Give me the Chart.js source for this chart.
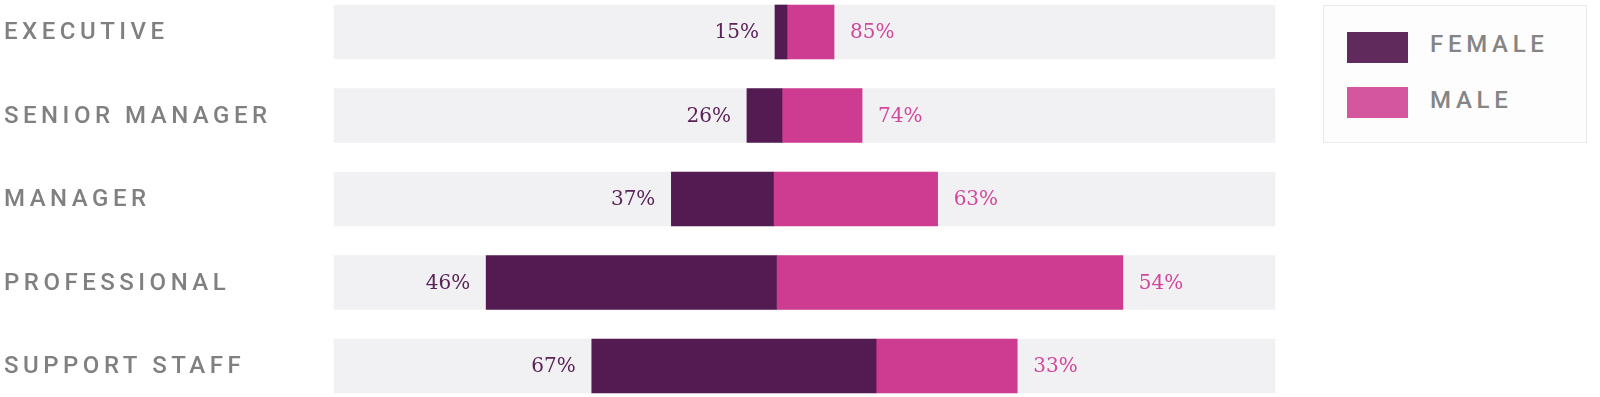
<!DOCTYPE html>
<html>
<head>
<meta charset="utf-8">
<script src="https://cdn.jsdelivr.net/npm/chart.js@4.4.1/dist/chart.umd.min.js"></script>
<style>
  html, body { margin: 0; padding: 0; background: #fff; }
  #wrap { position: relative; width: 1600px; height: 397px; }
  #legend {
    position: absolute; left: 1323px; top: 5px; width: 262px; height: 136px;
    border: 1px solid #e9e9e9; background: #fdfdfd;
  }
  .swatch { position: absolute; left: 23px; width: 61px; height: 31px; }
  .leg-text {
    position: absolute; left: 106px; font: 500 24px Roboto; line-height: 24px;
    letter-spacing: 4.7px; color: #858585;
  }
</style>
</head>
<body>
<div id="wrap">
  <canvas id="myChart"></canvas>
  <div id="legend">
    <div class="swatch" style="top:26px;background:#602a5c"></div>
    <div class="leg-text" style="top:26px">FEMALE</div>
    <div class="swatch" style="top:81px;background:#d4569f"></div>
    <div class="leg-text" style="top:82px">MALE</div>
  </div>
</div>
<script>
// headcount by level (bar length)
const categories = ['EXECUTIVE', 'SENIOR MANAGER', 'MANAGER', 'PROFESSIONAL', 'SUPPORT STAFF'];
const female = [12, 35, 102, 290, 284];
const male = [47, 80, 164, 346, 141];
const femalePct = [15, 26, 37, 46, 67];
const malePct = [85, 74, 63, 54, 33];
const axisHalf = 470;

// bars centred on 0: female on the left part, male on the right part
const femaleRanges = female.map((f, i) => {
  const start = -(f + male[i]) / 2;
  return [start, start + f];
});
const maleRanges = male.map((m, i) => {
  const start = -(female[i] + m) / 2 + female[i];
  return [start, start + m];
});
const trackRanges = categories.map(() => [-axisHalf, axisHalf]);

// spaced-out caps for the axis labels only
const tracking = {
  id: 'tracking',
  beforeDraw(chart) { chart.ctx.letterSpacing = '4.5px'; },
  beforeDatasetsDraw(chart) { chart.ctx.letterSpacing = '0px'; }
};

const pctLabels = {
  id: 'pctLabels',
  afterDatasetsDraw(chart) {
    const ctx = chart.ctx;
    ctx.save();
    ctx.font = '20px "DejaVu Serif"';
    ctx.textBaseline = 'middle';
    chart.getDatasetMeta(0).data.forEach((bar, i) => {
      ctx.fillStyle = '#5a2358';
      ctx.textAlign = 'right';
      ctx.fillText(femalePct[i] + '%', Math.min(bar.x, bar.base) - 16, bar.y + 1);
    });
    chart.getDatasetMeta(1).data.forEach((bar, i) => {
      ctx.fillStyle = '#d2479b';
      ctx.textAlign = 'left';
      ctx.fillText(malePct[i] + '%', Math.max(bar.x, bar.base) + 16, bar.y + 1);
    });
    ctx.restore();
  }
};

const ctx = document.getElementById('myChart');

new Chart(ctx, {
  type: 'bar',
  data: {
    labels: categories,
    datasets: [
      {
        label: 'Female',
        data: femaleRanges,
        backgroundColor: '#541b52'
      },
      {
        label: 'Male',
        data: maleRanges,
        backgroundColor: '#ce3c91'
      },
      {
        label: 'track',
        data: trackRanges,
        backgroundColor: '#f1f1f3'
      }
    ]
  },
  options: {
    indexAxis: 'y',
    responsive: true,
    maintainAspectRatio: false,
    animation: false,
    datasets: {
      bar: {
        grouped: false,
        barThickness: 54,
        borderWidth: 0,
        clip: false
      }
    },
    layout: {
      padding: { top: 32, bottom: 31, left: 4, right: 325 }
    },
    scales: {
      x: {
        display: false,
        min: -axisHalf,
        max: axisHalf
      },
      y: {
        offset: false,
        grid: { display: false },
        border: { display: false },
        ticks: {
          crossAlign: 'far',
          labelOffset: 1,
          color: '#808080',
          font: { family: 'Roboto', size: 24, weight: '500' }
        },
        afterFit(scale) { scale.width = 330; }
      }
    },
    plugins: {
      legend: { display: false },
      tooltip: { enabled: false }
    }
  },
  plugins: [tracking, pctLabels]
});
</script>
</body>
</html>
